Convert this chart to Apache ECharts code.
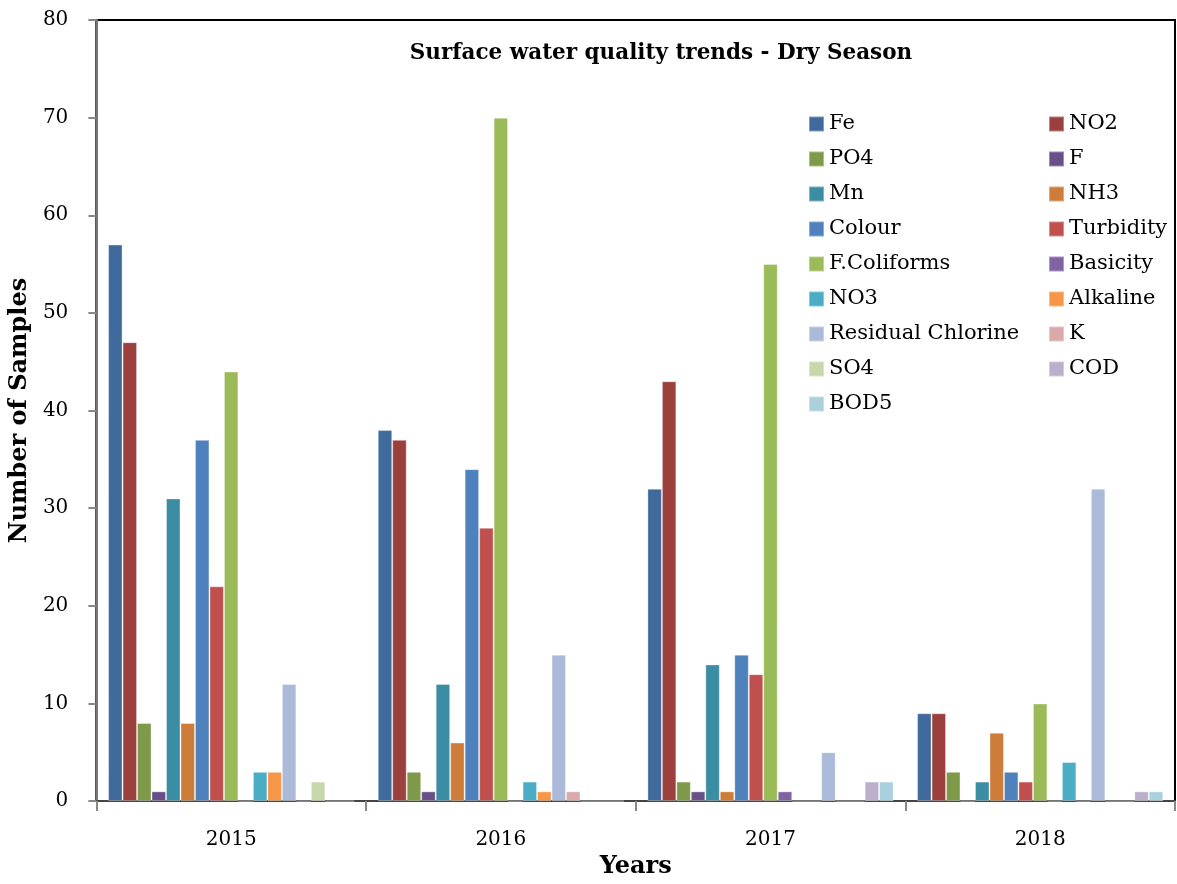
<!DOCTYPE html>
<html>
<head>
<meta charset="utf-8">
<script src="https://cdn.jsdelivr.net/npm/echarts@6/dist/echarts.min.js"></script>
<style>
  html, body { margin: 0; padding: 0; background: #fff; overflow: hidden; }
  #chart { width: 1177px; height: 884px; }
</style>
</head>
<body>
<div id="chart"></div>
<script>
const years = ['2015', '2016', '2017', '2018'];
const seriesNames = ['Fe', 'NO2', 'PO4', 'F', 'Mn', 'NH3', 'Colour', 'Turbidity', 'F.Coliforms',
  'Basicity', 'NO3', 'Alkaline', 'Residual Chlorine', 'K', 'SO4', 'COD', 'BOD5'];
const seriesColors = ['#3F6A9B', '#9C403E', '#7E9A48', '#684F88', '#3A8DA2', '#CD7C39', '#4F81BD',
  '#C0504D', '#9BBB59', '#8064A2', '#4BACC6', '#F79646', '#AABAD8', '#D9AAA9', '#C6D7AC', '#BAB0CB', '#A9D0DC'];

// values per series, one per year (2015..2018)
const fe          = [57, 38, 32, 9];
const no2         = [47, 37, 43, 9];
const po4         = [8, 3, 2, 3];
const f           = [1, 1, 1, 0];
const mn          = [31, 12, 14, 2];
const nh3         = [8, 6, 1, 7];
const colour      = [37, 34, 15, 3];
const turbidity   = [22, 28, 13, 2];
const fColiforms  = [44, 70, 55, 10];
const basicity    = [0, 0, 1, 0];
const no3         = [3, 2, 0, 4];
const alkaline    = [3, 1, 0, 0];
const resChlorine = [12, 15, 5, 32];
const k           = [0, 1, 0, 0];
const so4         = [2, 0, 0, 0];
const cod         = [0, 0, 2, 1];
const bod5        = [0, 0, 2, 1];

const values = [fe, no2, po4, f, mn, nh3, colour, turbidity, fColiforms,
  basicity, no3, alkaline, resChlorine, k, so4, cod, bod5];

const font = 'DejaVu Serif';

const chart = echarts.init(document.getElementById('chart'));

// two columns, filled row by row like the original
const legendLeft = seriesNames.filter((_, i) => i % 2 === 0);
const legendRight = seriesNames.filter((_, i) => i % 2 === 1);

const legendBase = {
    orient: 'vertical',
    top: 113,
    padding: 0,
    itemWidth: 15,
    itemHeight: 15,
    itemGap: 13,
    icon: 'rect',
    textStyle: { fontFamily: font, fontSize: 21, color: '#000', lineHeight: 22 }
};

const option = {
    animation: false,
    color: seriesColors,
    textStyle: { fontFamily: font },
    title: {
        text: 'Surface water quality trends - Dry Season',
        left: 656,
        textAlign: 'center',
        top: 37,
        textStyle: { fontFamily: font, fontSize: 21.5, fontWeight: 'bold', color: '#000' }
    },
    legend: [
        Object.assign({}, legendBase, { left: 808, data: legendLeft }),
        Object.assign({}, legendBase, { left: 1048, data: legendRight })
    ],
    grid: {
        show: true,
        left: 94,
        right: 2,
        top: 20,
        bottom: 81,
        borderColor: '#000',
        borderWidth: 2,
        containLabel: false
    },
    xAxis: {
        type: 'category',
        data: years,
        name: 'Years',
        nameLocation: 'middle',
        nameGap: 53,
        nameTextStyle: { fontFamily: font, fontSize: 24, fontWeight: 'bold', color: '#000' },
        axisLine: { lineStyle: { color: '#444', width: 2 } },
        axisTick: { show: true, length: 10, lineStyle: { color: '#888', width: 2 } },
        axisLabel: { fontFamily: font, fontSize: 20, color: '#000', margin: 29 },
        splitLine: { show: false }
    },
    yAxis: {
        type: 'value',
        min: 0,
        max: 80,
        interval: 10,
        name: 'Number of Samples',
        nameLocation: 'middle',
        nameGap: 55,
        nameTextStyle: { fontFamily: font, fontSize: 24, fontWeight: 'bold', color: '#000' },
        axisLine: { show: true, lineStyle: { color: '#777', width: 2 } },
        axisTick: { show: true, length: 8, lineStyle: { color: '#888', width: 2 } },
        axisLabel: { fontFamily: font, fontSize: 20, color: '#000', margin: 28 },
        splitLine: { show: false }
    },
    series: seriesNames.map((name, i) => ({
        name: name,
        type: 'bar',
        data: values[i],
        barGap: '0%',
        barCategoryGap: '8.7%',
        itemStyle: { color: seriesColors[i], borderColor: 'rgba(255,255,255,0.35)', borderWidth: 1 }
    }))
};

chart.setOption(option);
</script>
</body>
</html>
